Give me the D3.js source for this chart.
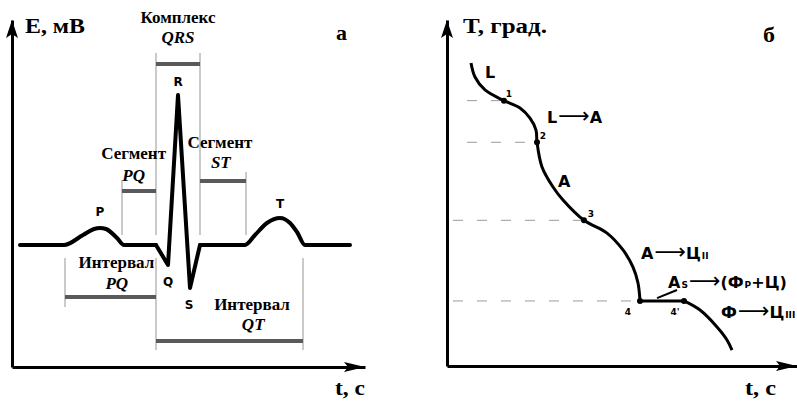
<!DOCTYPE html>
<html lang="ru">
<head>
<meta charset="UTF-8">
<title>ЭКГ и кривая охлаждения</title>
<script src="https://d3js.org/d3.v7.min.js"></script>
<style>
    body { margin: 0; background: #fff; }
    .axis path { stroke: #000; stroke-width: 3; }
    .ecg { fill: none; stroke: #000; stroke-width: 4; stroke-linejoin: round; stroke-linecap: round; }
    .guide { stroke: #b8b8b8; stroke-width: 1.5; }
    .bar { stroke: #5a5a5a; stroke-width: 4; }
    .serif { font-family: "Liberation Serif", "Times New Roman", serif; font-weight: bold; }
    .sans { font-family: "DejaVu Sans", sans-serif; font-weight: bold; }
    .cool { fill: none; stroke: #000; stroke-width: 3; stroke-linejoin: round; }
    .dash { stroke: #9a9a9a; stroke-width: 1; stroke-dasharray: 10,14; }
</style>
</head>
<body>
<svg id="chart" width="797" height="401"></svg>
<script>
    // --- panel а: ECG, t in s, E in mV ---
    const pWaveT = [0.02, 0.13, 0.1775, 0.205, 0.22, 0.235, 0.2625, 0.28, 0.36];
    const pWaveE = [0, 0, 0.1, 0.16, 0.17, 0.16, 0.07, 0, 0];
    const qrsT = [0.36, 0.39, 0.415, 0.445, 0.47];
    const qrsE = [0, -0.2, 1.5, -0.43, 0];
    const tWaveT = [0.47, 0.5825, 0.6075, 0.6375, 0.67, 0.695, 0.7125, 0.7325, 0.845];
    const tWaveE = [0, 0, 0.1, 0.22, 0.27, 0.22, 0.13, 0, 0];

    // brackets: complex QRS, segment PQ, segment ST, interval PQ, interval QT
    const bracketStart = [0.36, 0.275, 0.47, 0.1325, 0.36];
    const bracketEnd = [0.47, 0.36, 0.585, 0.36, 0.7275];
    const bracketLevel = [1.81, 0.54, 0.64, -0.52, -0.96];

    // thin grey verticals
    const guideT = [0.36, 0.36, 0.47, 0.275, 0.585, 0.1325, 0.7275];
    const guideFrom = [1.92, -0.13, 1.92, 0.65, 0.73, -0.13, -0.13];
    const guideTo = [0.1, -1.05, 0.1, 0.1, 0.1, -0.62, -1.05];

    const waveNames = ["P", "Q", "R", "S", "T"];
    const waveNameT = [0.22, 0.39, 0.415, 0.4425, 0.67];
    const waveNameE = [0.33, -0.37, 1.63, -0.6, 0.41];

    // --- panel б: cooling curve, t in s, T in degrees ---
    const coolT1 = [4.8, 5.6, 7.6, 11.4, 14.6, 16.6, 17.8, 18, 19, 21.2, 23.2, 27.4, 32, 35.2, 37.2, 38.2, 38.6];
    const coolY1 = [1645, 1591, 1541, 1500, 1472, 1433, 1387, 1340, 1245, 1168, 1118, 1040, 991, 926, 860, 799, 730];
    const plateauT = [38.6, 47.4];
    const plateauY = [730, 730];
    const coolT2 = [47.4, 50.6, 54, 56, 57];
    const coolY2 = [730, 695, 630, 580, 541];

    const pointNames = ["1", "2", "3", "4", "4'"];
    const pointT = [11.4, 18, 27.4, 38.6, 47.4];
    const pointY = [1500, 1340, 1040, 730, 730];
    const dashStart = [4, 4, 1.2, 1.2, null];

    const svg = d3.select("#chart");

    // scales
    const xL = d3.scaleLinear().domain([0, 0.8825]).range([12, 365]);
    const yL = d3.scaleLinear().domain([-1.22, 2.25]).range([367, 20]);
    const xR = d3.scaleLinear().domain([0, 70]).range([447, 797]);
    const yR = d3.scaleLinear().domain([480, 1810]).range([366, 20]);

    function axes(x, y) {
        svg.append("g").attr("class", "axis")
            .attr("transform", `translate(0,${y.range()[0]})`)
            .call(d3.axisBottom(x).tickValues([]).tickSizeOuter(0));
        svg.append("g").attr("class", "axis")
            .attr("transform", `translate(${x.range()[0]},0)`)
            .call(d3.axisLeft(y).tickValues([]).tickSizeOuter(0));
        const x0 = x.range()[0], x1 = x.range()[1];
        const y0 = y.range()[0], y1 = y.range()[1];
        svg.append("path")
            .attr("d", `M${x0},${y1} L${x0 - 6},${y1 + 18} L${x0},${y1 + 14} L${x0 + 6},${y1 + 18}Z`);
        svg.append("path")
            .attr("d", `M${x1},${y0} L${x1 - 21},${y0 - 5} L${x1 - 17},${y0} L${x1 - 21},${y0 + 5}Z`);
    }
    axes(xL, yL);
    axes(xR, yR);

    // ---------- panel а ----------
    const zip = (a, b) => a.map((v, i) => [v, b[i]]);

    svg.selectAll(".guide").data(guideT).join("line")
        .attr("class", "guide")
        .attr("x1", d => xL(d)).attr("x2", d => xL(d))
        .attr("y1", (d, i) => yL(guideFrom[i])).attr("y2", (d, i) => yL(guideTo[i]));

    svg.selectAll(".bar").data(bracketStart).join("line")
        .attr("class", "bar")
        .attr("x1", d => xL(d)).attr("x2", (d, i) => xL(bracketEnd[i]))
        .attr("y1", (d, i) => yL(bracketLevel[i])).attr("y2", (d, i) => yL(bracketLevel[i]));

    const smooth = d3.line().x(d => xL(d[0])).y(d => yL(d[1])).curve(d3.curveMonotoneX);
    const sharp = d3.line().x(d => xL(d[0])).y(d => yL(d[1]));
    svg.append("path").attr("class", "ecg").attr("d", smooth(zip(pWaveT, pWaveE)));
    svg.append("path").attr("class", "ecg").attr("d", sharp(zip(qrsT, qrsE)));
    svg.append("path").attr("class", "ecg").attr("d", smooth(zip(tWaveT, tWaveE)));

    svg.selectAll(".wname").data(waveNames).join("text")
        .attr("class", "wname sans")
        .attr("x", (d, i) => xL(waveNameT[i])).attr("y", (d, i) => yL(waveNameE[i]))
        .attr("text-anchor", "middle").attr("dominant-baseline", "central")
        .attr("font-size", 12).text(d => d);

    function note(t, e, str, italic) {
        svg.append("text").attr("class", "serif")
            .attr("x", xL(t)).attr("y", yL(e))
            .attr("text-anchor", "middle").attr("font-size", 17)
            .attr("font-style", italic ? "italic" : null)
            .text(str);
    }
    note(0.415, 2.22, "Комплекс");
    note(0.415, 2.02, "QRS", true);
    note(0.304, 0.86, "Сегмент");
    note(0.304, 0.64, "PQ", true);
    note(0.52, 0.97, "Сегмент");
    note(0.522, 0.77, "ST", true);
    note(0.261, -0.23, "Интервал");
    note(0.262, -0.44, "PQ", true);
    note(0.6, -0.65, "Интервал");
    note(0.603, -0.85, "QT", true);

    function title(x, y, str, w) {
        svg.append("text").attr("class", "serif").attr("x", x).attr("y", y)
            .attr("font-size", 21).attr("textLength", w)
            .attr("lengthAdjust", "spacingAndGlyphs").text(str);
    }
    title(25, 33, "E, мВ", 60);
    title(336, 40, "а", 11);
    title(335, 395, "t, с", 30);

    // ---------- panel б ----------
    pointT.forEach((t, i) => {
        if (dashStart[i] === null) return;
        svg.append("line").attr("class", "dash")
            .attr("x1", xR(dashStart[i])).attr("x2", xR(t))
            .attr("y1", yR(pointY[i])).attr("y2", yR(pointY[i]));
    });

    const coolLine = d3.line().x(d => xR(d[0])).y(d => yR(d[1]));
    svg.append("path").attr("class", "cool")
        .attr("d", coolLine.curve(d3.curveCatmullRom)(zip(coolT1, coolY1)));
    svg.append("path").attr("class", "cool")
        .attr("d", coolLine.curve(d3.curveLinear)(zip(plateauT, plateauY)));
    svg.append("path").attr("class", "cool")
        .attr("d", coolLine.curve(d3.curveCatmullRom)(zip(coolT2, coolY2)));

    svg.selectAll(".pt").data(pointT).join("circle")
        .attr("class", "pt")
        .attr("cx", d => xR(d)).attr("cy", (d, i) => yR(pointY[i])).attr("r", 3);

    const numOffsetT = [1, 1.2, 1.4, -2.4, -1.8];
    const numOffsetY = [14, 14, 12, -55, -55];
    svg.selectAll(".pname").data(pointNames).join("text")
        .attr("class", "pname sans")
        .attr("x", (d, i) => xR(pointT[i] + numOffsetT[i])).attr("y", (d, i) => yR(pointY[i] + numOffsetY[i]))
        .attr("text-anchor", "middle").attr("font-size", 9).text(d => d);

    // phase labels: parts [text, kind]
    function phase(t, y, parts) {
        const tx = svg.append("text").attr("class", "sans")
            .attr("x", xR(t)).attr("y", yR(y)).attr("font-size", 16);
        parts.forEach(p => {
            const s = tx.append("tspan").text(p[0]);
            if (p[1] === "sub") s.attr("font-size", 9).attr("dx", 1);
            if (p[1] === "arr") s.attr("font-weight", "normal").attr("font-size", 22)
                .attr("dx", 1);
        });
    }
    phase(7.6, 1587, [["L"]]);
    phase(20, 1414, [["L"], ["⟶", "arr"], ["A"]]);
    phase(22.2, 1168, [["A"]]);
    phase(38.8, 891, [["A"], ["⟶", "arr"], ["Ц"], ["II", "sub"]]);
    phase(44.2, 780, [["A"], ["S", "sub"], ["⟶", "arr"], ["(Ф"], ["P", "sub"], ["+Ц)"]]);
    phase(54.8, 665, [["Ф"], ["⟶", "arr"], ["Ц"], ["III", "sub"]]);

    svg.append("line").attr("stroke", "#000").attr("stroke-width", 2)
        .attr("x1", xR(42)).attr("y1", yR(741)).attr("x2", xR(46)).attr("y2", yR(772));

    title(463, 33, "T, град.", 84);
    title(763, 42, "б", 12);
    title(745, 395, "t, с", 31);
</script>
</body>
</html>
